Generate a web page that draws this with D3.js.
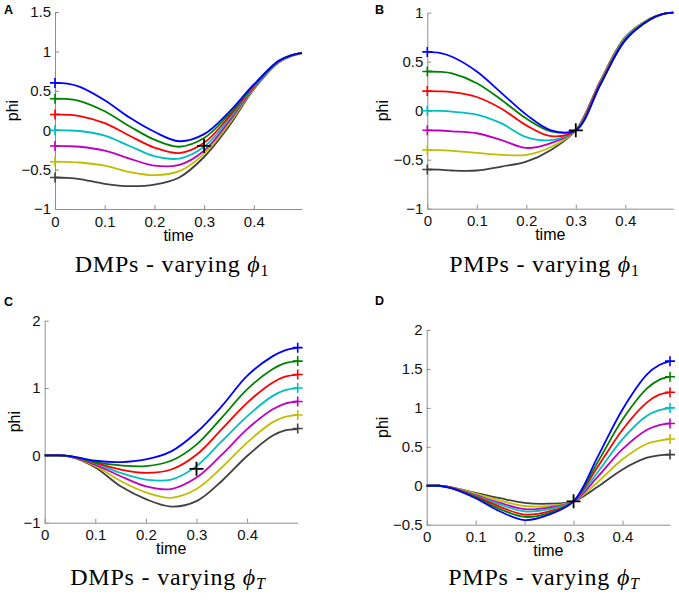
<!DOCTYPE html>
<html><head><meta charset="utf-8">
<script src="https://cdn.jsdelivr.net/npm/d3@7"></script>
<style>body{margin:0;background:#fff} svg{display:block}</style>
</head><body>
<svg id="chart" width="679" height="603"></svg>
<script>
// ---------- data ----------
const seriesColors = ["#0000ff", "#008000", "#ff0000", "#00bfbf", "#bf00bf", "#bfbf00", "#404040"];
const startValues = [0.6, 0.4, 0.2, 0, -0.2, -0.4, -0.6];
const goalValues = [1.6, 1.4, 1.2, 1.0, 0.8, 0.6, 0.4];
const viaPoint = [0.3, -0.2];

const timesAB = [0, 0.025, 0.05, 0.1, 0.15, 0.2, 0.25, 0.3, 0.35, 0.4, 0.45, 0.475, 0.497];
const timesC  = [0, 0.025, 0.05, 0.1, 0.15, 0.2, 0.25, 0.3, 0.35, 0.4, 0.45, 0.475, 0.5];
const timesD  = [0, 0.025, 0.05, 0.1, 0.15, 0.2, 0.25, 0.3, 0.35, 0.4, 0.45, 0.475, 0.497];

// A: DMPs - varying phi_1
const dmpVaryPhi1 = [
  [0.6, 0.59, 0.55, 0.38, 0.16, -0.02, -0.14, -0.05, 0.23, 0.58, 0.88, 0.95, 0.98],
  [0.4, 0.395, 0.37, 0.24, 0.05, -0.12, -0.21, -0.1, 0.2, 0.57, 0.88, 0.95, 0.98],
  [0.2, 0.195, 0.18, 0.09, -0.07, -0.22, -0.29, -0.16, 0.17, 0.56, 0.875, 0.95, 0.98],
  [0, -0.003, -0.01, -0.07, -0.2, -0.33, -0.36, -0.21, 0.14, 0.55, 0.87, 0.945, 0.98],
  [-0.2, -0.203, -0.21, -0.26, -0.36, -0.45, -0.44, -0.26, 0.11, 0.54, 0.87, 0.945, 0.98],
  [-0.4, -0.403, -0.41, -0.45, -0.53, -0.57, -0.52, -0.3, 0.08, 0.53, 0.865, 0.94, 0.975],
  [-0.6, -0.605, -0.62, -0.68, -0.71, -0.69, -0.6, -0.34, 0.05, 0.52, 0.86, 0.94, 0.975]
];
// B: PMPs - varying phi_1
const pmpVaryPhi1 = [
  [0.6, 0.59, 0.55, 0.40, 0.18, -0.04, -0.2, -0.2, 0.27, 0.72, 0.93, 0.985, 1.0],
  [0.4, 0.397, 0.38, 0.28, 0.11, -0.08, -0.21, -0.2, 0.27, 0.72, 0.93, 0.985, 1.0],
  [0.2, 0.198, 0.19, 0.14, 0.02, -0.15, -0.26, -0.2, 0.28, 0.72, 0.93, 0.985, 1.0],
  [0, -0.002, -0.01, -0.04, -0.13, -0.27, -0.3, -0.2, 0.28, 0.73, 0.935, 0.985, 1.0],
  [-0.2, -0.202, -0.21, -0.23, -0.3, -0.38, -0.33, -0.2, 0.29, 0.73, 0.935, 0.985, 1.0],
  [-0.4, -0.402, -0.41, -0.43, -0.45, -0.45, -0.37, -0.2, 0.3, 0.74, 0.94, 0.985, 1.0],
  [-0.6, -0.602, -0.61, -0.61, -0.57, -0.52, -0.4, -0.2, 0.31, 0.75, 0.94, 0.985, 1.0]
];
// C: DMPs - varying phi_T
const dmpVaryPhiT = [
  [0, 0, -0.01, -0.08, -0.1, -0.06, 0.06, 0.34, 0.73, 1.18, 1.47, 1.56, 1.6],
  [0, 0, -0.01, -0.1, -0.15, -0.16, -0.08, 0.16, 0.56, 0.98, 1.28, 1.37, 1.4],
  [0, 0, -0.015, -0.11, -0.21, -0.26, -0.21, 0.01, 0.39, 0.78, 1.08, 1.17, 1.2],
  [0, 0, -0.015, -0.12, -0.26, -0.36, -0.36, -0.16, 0.21, 0.58, 0.88, 0.97, 1.0],
  [0, 0, -0.02, -0.14, -0.31, -0.46, -0.5, -0.33, 0.01, 0.39, 0.68, 0.77, 0.8],
  [0, 0, -0.02, -0.16, -0.38, -0.55, -0.63, -0.5, -0.18, 0.19, 0.49, 0.57, 0.6],
  [0, 0, -0.02, -0.18, -0.46, -0.65, -0.76, -0.68, -0.38, -0.01, 0.29, 0.37, 0.39]
];
// D: PMPs - varying phi_T
const pmpVaryPhiT = [
  [0, 0, -0.03, -0.16, -0.33, -0.44, -0.37, -0.2, 0.38, 0.98, 1.43, 1.55, 1.6],
  [0, 0, -0.03, -0.15, -0.30, -0.40, -0.35, -0.2, 0.31, 0.85, 1.25, 1.36, 1.4],
  [0, 0, -0.025, -0.14, -0.27, -0.37, -0.33, -0.2, 0.25, 0.72, 1.07, 1.17, 1.2],
  [0, 0, -0.025, -0.13, -0.24, -0.33, -0.30, -0.2, 0.18, 0.6, 0.9, 0.97, 1.0],
  [0, 0, -0.02, -0.12, -0.22, -0.30, -0.28, -0.2, 0.12, 0.47, 0.72, 0.78, 0.8],
  [0, 0, -0.02, -0.1, -0.19, -0.26, -0.26, -0.2, 0.05, 0.34, 0.54, 0.58, 0.6],
  [0, 0, -0.02, -0.09, -0.16, -0.22, -0.23, -0.2, -0.01, 0.21, 0.36, 0.39, 0.4]
];

const xTicks = [0, 0.1, 0.2, 0.3, 0.4];
const yTicksA = [-1, -0.5, 0, 0.5, 1, 1.5];
const yTicksB = [-1, -0.5, 0, 0.5, 1];
const yTicksC = [-1, 0, 1, 2];
const yTicksD = [-0.5, 0, 0.5, 1, 1.5, 2];
const panelLetters = ["A", "B", "C", "D"];
const titleMethods = ["DMPs", "PMPs", "DMPs", "PMPs"];
const titleSubscripts = ["1", "1", "T", "T"];

// ---------- layout ----------
const panels = [
  { data: dmpVaryPhi1, times: timesAB, xr: [55, 302], xmax: 0.497, yd: [-1, 1.5], yr: [209, 12], yt: yTicksA,
    marker: "start", lx: 4, ly: 13.5, ylx: 12.5, tx: 172, ty: 272 },
  { data: pmpVaryPhi1, times: timesAB, xr: [427.3, 673.3], xmax: 0.497, yd: [-1, 1], yr: [208.7, 12.7], yt: yTicksB,
    marker: "start", lx: 375, ly: 13.5, ylx: 382.5, tx: 544.5, ty: 272 },
  { data: dmpVaryPhiT, times: timesC, xr: [44.7, 297.7], xmax: 0.5, yd: [-1, 2], yr: [522.7, 320.7], yt: yTicksC,
    marker: "end", lx: 4, ly: 305.5, ylx: 14, tx: 168, ty: 585 },
  { data: pmpVaryPhiT, times: timesD, xr: [426.7, 670], xmax: 0.497, yd: [-0.5, 2], yr: [524.7, 330], yt: yTicksD,
    marker: "end", lx: 375, ly: 305, ylx: 382.5, tx: 544, ty: 585 }
];

const svg = d3.select("#chart");
const fmt = d => d < 0 ? "\u2212" + Math.abs(d) : String(d);
const sans = "'Liberation Sans', Arial, Helvetica, sans-serif";
const axisColor = "#8e8e8e";

panels.forEach((p, i) => {
  const x = d3.scaleLinear().domain([0, p.xmax]).range(p.xr);
  const y = d3.scaleLinear().domain(p.yd).range(p.yr);
  const g = svg.append("g");

  // axes
  const xAxis = g.append("g").attr("transform", `translate(0,${p.yr[0]})`)
    .call(d3.axisBottom(x).tickValues(xTicks).tickFormat(fmt).tickSizeInner(-4).tickSizeOuter(0).tickPadding(7));
  const yAxis = g.append("g").attr("transform", `translate(${p.xr[0]},0)`)
    .call(d3.axisLeft(y).tickValues(p.yt).tickFormat(fmt).tickSizeInner(-4).tickSizeOuter(0).tickPadding(4));
  [xAxis, yAxis].forEach(a => {
    a.select(".domain").attr("stroke", axisColor).attr("stroke-width", 1);
    a.selectAll(".tick line").attr("stroke", axisColor);
    a.selectAll("text").attr("font-family", sans).attr("font-size", 15).attr("fill", "#111");
  });

  // curves (gray first, blue last/on top)
  const line = d3.line().x((d, k) => x(p.times[k])).y(d => y(d)).curve(d3.curveCatmullRom.alpha(0.5));
  for (let s = p.data.length - 1; s >= 0; s--) {
    g.append("path").attr("d", line(p.data[s])).attr("fill", "none")
      .attr("stroke", seriesColors[s]).attr("stroke-width", 1.8);
  }
  // start / goal markers
  p.data.forEach((vals, s) => {
    const tx = p.marker === "start" ? 0 : p.xmax;
    const tv = p.marker === "start" ? startValues[s] : goalValues[s];
    const cx = x(tx), cy = y(tv), h = 5;
    g.append("path").attr("d", `M${cx - h},${cy}H${cx + h}M${cx},${cy - h}V${cy + h}`)
      .attr("stroke", seriesColors[s]).attr("stroke-width", 1.6).attr("fill", "none");
  });
  // via point
  {
    const cx = x(viaPoint[0]), cy = y(viaPoint[1]), h = 7;
    g.append("path").attr("d", `M${cx - h},${cy}H${cx + h}M${cx},${cy - h}V${cy + h}`)
      .attr("stroke", "#000").attr("stroke-width", 1.8).attr("fill", "none");
  }

  // axis labels
  g.append("text").attr("x", (p.xr[0] + p.xr[1]) / 2).attr("y", p.yr[0] + 31.5)
    .attr("text-anchor", "middle").attr("font-family", sans).attr("font-size", 16).text("time");
  g.append("text").attr("transform", `translate(${p.ylx},${(p.yr[0] + p.yr[1]) / 2}) rotate(-90)`)
    .attr("text-anchor", "middle").attr("dy", "0.35em").attr("font-family", sans).attr("font-size", 16).text("phi");

  // panel letter
  g.append("text").attr("x", p.lx).attr("y", p.ly).attr("font-family", sans).attr("font-weight", "bold")
    .attr("font-size", 12.5).text(panelLetters[i]);

  // title
  const t = g.append("text").attr("x", p.tx).attr("y", p.ty).attr("text-anchor", "middle")
    .attr("font-family", "'Liberation Serif', 'Times New Roman', serif").attr("font-size", 24)
    .attr("letter-spacing", 0.8);
  t.append("tspan").text(titleMethods[i] + " - varying ");
  t.append("tspan").attr("font-style", "italic").text("\u03d5");
  t.append("tspan").attr("font-size", 16).attr("dy", 4).attr("font-style", titleSubscripts[i] === "T" ? "italic" : "normal")
    .text(titleSubscripts[i]);
});
</script>
</body></html>
